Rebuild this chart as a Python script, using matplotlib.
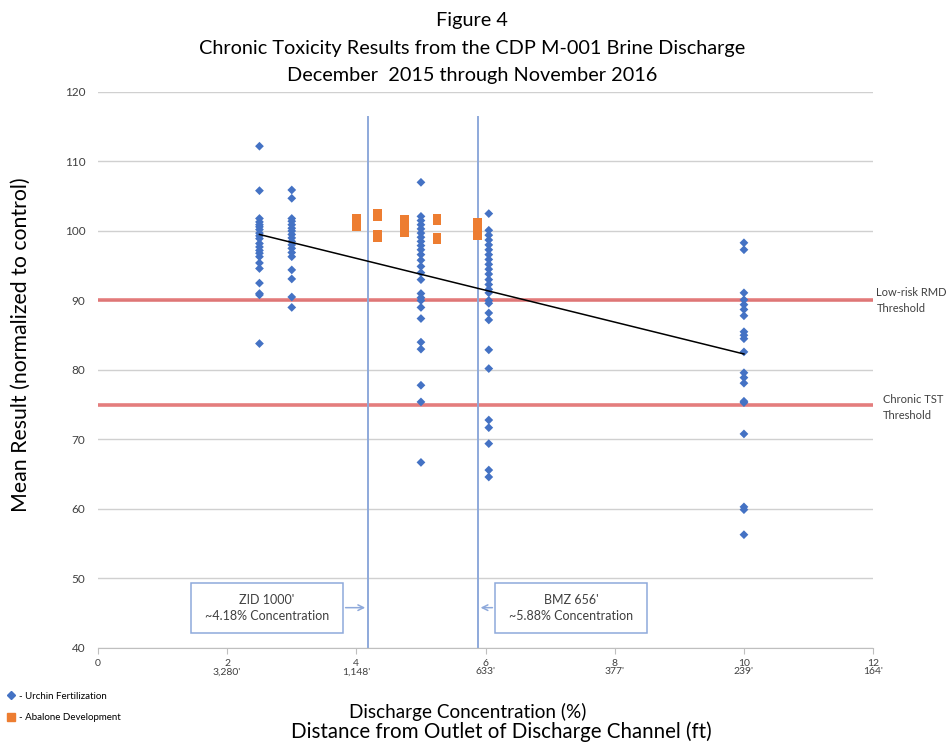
"""Figure 4 - chronic toxicity results vs discharge concentration."""

import matplotlib

matplotlib.use("Agg")
matplotlib.rcParams["font.family"] = ["Lato", "DejaVu Sans", "sans-serif"]
import matplotlib.pyplot as plt
import numpy as np
from matplotlib.lines import Line2D
from matplotlib.patches import Rectangle

# --- data ------------------------------------------------------------------
urchin_conc = [2.5, 3.0, 5.0, 6.05, 10.0]
urchin_results = [
    [112.2, 105.8, 101.8, 101.3, 100.9, 100.6, 100.2, 99.7, 99.3, 98.9, 98.2,
     97.7, 97.2, 96.8, 96.3, 95.4, 94.6, 92.5, 91.0, 90.8, 83.8],
    [105.9, 104.7, 101.8, 101.4, 100.9, 100.4, 100.0, 99.5, 99.0, 98.5, 98.0,
     97.5, 96.9, 96.3, 94.4, 93.1, 90.5, 89.0],
    [107.0, 102.1, 101.5, 100.9, 100.3, 99.7, 99.1, 98.5, 97.9, 97.3, 96.6,
     95.8, 94.9, 94.0, 93.0, 91.0, 90.4, 90.0, 89.0, 87.4, 84.0, 83.0, 77.8,
     75.4, 66.7],
    [102.5, 100.1, 99.4, 98.7, 98.0, 97.3, 96.6, 95.9, 95.2, 94.5, 93.8, 93.0,
     92.3, 91.6, 91.1, 90.0, 89.6, 88.2, 87.2, 82.9, 80.2, 72.8, 71.7, 69.4,
     65.6, 64.6],
    [98.3, 97.3, 91.1, 90.1, 89.4, 88.7, 87.8, 85.5, 85.0, 84.5, 82.6, 79.6,
     78.9, 78.1, 75.5, 75.3, 70.8, 60.3, 59.9, 56.3],
]
abalone_conc = [4.0, 4.33, 4.75, 5.25, 5.88]
abalone_results = [
    [101.8, 101.2, 100.6],
    [102.5, 102.0, 99.5, 99.1],
    [101.6, 100.9, 100.3, 99.7],
    [101.8, 101.5, 99.1, 98.8],
    [101.3, 100.6, 99.9, 99.3],
]
trend_x = [2.5, 10.0]
trend_y = [99.5, 82.3]

threshold_rmd = 90
threshold_tst = 75
zid_conc = 4.18
bmz_conc = 5.88

x_ticks = [0, 2, 4, 6, 8, 10, 12]
x_distances = ["", "3,280'", "1,148'", "633'", "377'", "239'", "164'"]

BLUE = "#4472C4"
ORANGE = "#ED7D31"
RED = "#E06666"
LINE_BLUE = "#8EA9DB"
TXT = "#404040"

fig = plt.figure(figsize=(9.53, 7.43), dpi=100)
ax = fig.add_axes([0.1028, 0.1279, 0.8134, 0.7483])

ax.set_xlim(0, 12)
ax.set_ylim(40, 120)

# gridlines
ax.set_yticks(np.arange(40, 121, 10))
ax.yaxis.grid(True, color="#D0D0D0", linewidth=1)
ax.set_axisbelow(True)
for side in ("top", "right", "left"):
    ax.spines[side].set_visible(False)
ax.spines["bottom"].set_color("#BFBFBF")
ax.tick_params(axis="y", length=0, labelsize=8.5, pad=9, colors=TXT)
ax.tick_params(axis="x", length=4, color="#BFBFBF", labelsize=7.5, pad=4, colors=TXT)
ax.set_xticks(x_ticks)
ax.set_xticklabels([f"{t}\n{d}" if d else f"{t}" for t, d in zip(x_ticks, x_distances)],
                   linespacing=0.9)

# thresholds
ax.axhline(threshold_rmd, color=RED, linewidth=2.6, alpha=0.85, zorder=2)
ax.axhline(threshold_tst, color=RED, linewidth=2.6, alpha=0.85, zorder=2)
ax.text(12.05, threshold_rmd, "Low-risk RMD\nThreshold", fontsize=8, color=TXT,
        ha="left", va="center", clip_on=False, linespacing=1.45)
ax.text(12.15, threshold_tst - 0.4, "Chronic TST\nThreshold", fontsize=8, color=TXT,
        ha="left", va="center", clip_on=False, linespacing=1.45)

# boundary lines
for c in (zid_conc, bmz_conc):
    ax.plot([c, c], [40, 116.4], color=LINE_BLUE, linewidth=1.4, zorder=2)

# data points
ux = np.concatenate([[c] * len(v) for c, v in zip(urchin_conc, urchin_results)])
uy = np.concatenate(urchin_results)
ax.scatter(ux, uy, marker="D", s=20, color=BLUE, edgecolors="none", zorder=4)
ab_x = np.concatenate([[c] * len(v) for c, v in zip(abalone_conc, abalone_results)])
ab_y = np.concatenate(abalone_results)
ax.scatter(ab_x, ab_y, marker="s", s=40, color=ORANGE, edgecolors="none", zorder=3)

ax.plot(trend_x, trend_y, color="black", linewidth=1.1, zorder=5)

# annotation boxes
ax.add_patch(Rectangle((1.44, 42.2), 2.35, 7.2, facecolor="white", edgecolor=LINE_BLUE,
                       linewidth=1.1, zorder=3))
ax.text(2.615, 45.8, "ZID 1000'\n~4.18% Concentration", fontsize=9, ha="center",
        va="center", color=TXT, zorder=4, linespacing=1.4)
ax.annotate("", xy=(zid_conc, 45.8), xytext=(3.79, 45.8),
            arrowprops=dict(arrowstyle="->", color=LINE_BLUE, lw=1.1), zorder=4)

ax.add_patch(Rectangle((6.15, 42.2), 2.35, 7.2, facecolor="white", edgecolor=LINE_BLUE,
                       linewidth=1.1, zorder=3))
ax.text(7.325, 45.8, "BMZ 656'\n~5.88% Concentration", fontsize=9, ha="center",
        va="center", color=TXT, zorder=4, linespacing=1.4)
ax.annotate("", xy=(bmz_conc, 45.8), xytext=(6.15, 45.8),
            arrowprops=dict(arrowstyle="->", color=LINE_BLUE, lw=1.1), zorder=4)

# titles and labels
fig.text(0.495, 0.984, "Figure 4\nChronic Toxicity Results from the CDP M-001 Brine Discharge\n"
         "December  2015 through November 2016", ha="center", va="top", fontsize=14.3,
         linespacing=1.76)
ax.set_ylabel("Mean Result (normalized to control)", fontsize=15.3)
ax.yaxis.set_label_coords(-0.087, 0.545)
fig.text(0.4905, 1 - 712 / 743, "Discharge Concentration (%)", ha="center", va="center",
         fontsize=13.6)
fig.text(0.526, 1 - 732 / 743, "Distance from Outlet of Discharge Channel (ft)", ha="center",
         va="center", fontsize=14.8)

handles = [
    Line2D([], [], marker="D", linestyle="none", color=BLUE, markersize=4),
    Line2D([], [], marker="s", linestyle="none", color=ORANGE, markersize=6),
]
fig.legend(handles, ["- Urchin Fertilization", "- Abalone Development"], loc="upper left",
           bbox_to_anchor=(-0.004, 1 - 683 / 743), bbox_transform=fig.transFigure, frameon=False,
           fontsize=7, handlelength=1.2, handletextpad=0.2, labelspacing=1.3)

fig.savefig("out.png", dpi=100, facecolor="white")
